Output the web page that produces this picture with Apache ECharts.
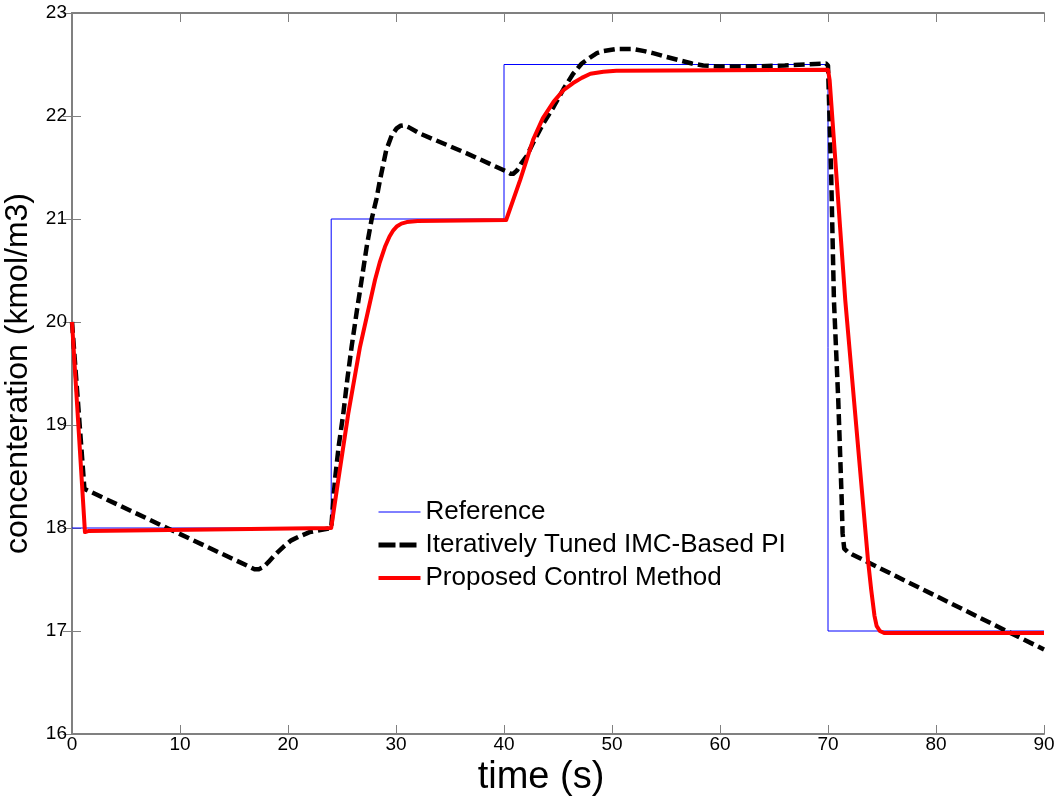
<!DOCTYPE html>
<html>
<head>
<meta charset="utf-8">
<script src="https://cdn.jsdelivr.net/npm/echarts@6/dist/echarts.min.js"></script>
<style>
  html, body { margin: 0; padding: 0; background: #fff; }
  #chart { width: 1058px; height: 796px; }
</style>
</head>
<body>
<div id="chart"></div>
<script>
// Set-point trajectory (step changes)
const refTime = [0, 24, 24, 40, 40, 70, 70, 90];
const refConc = [18, 18, 21, 21, 22.5, 22.5, 17, 17];

// Iteratively tuned IMC-based PI response
const imcTime = [0, 1.15, 8.8, 16.3, 16.9, 17.3, 17.7, 18.2, 18.8, 19.6, 20.3, 21.1, 22, 23, 24,
  24.35, 24.7, 25.12, 25.5, 25.89, 26.35, 26.82, 27.3, 27.75, 28.2, 28.52, 29.1, 29.6, 30.06, 30.4, 30.74, 31.2,
  32.2, 36.5, 40.25, 40.6, 40.86, 41.2, 41.6, 42.1, 42.7, 43.6, 44.6, 45.5, 46.4, 47.2, 48.0, 48.6, 49.2, 50.4,
  52.0, 53.0, 53.8, 55.0, 56.3, 57.4, 58.45, 60, 62.5, 66, 69.8, 70.0,
  70.3, 70.55, 70.95, 71.27, 71.35, 71.5, 71.8, 72.3, 90];
const imcConc = [20.0, 18.38, 18.0, 17.63, 17.6, 17.6, 17.62, 17.67, 17.74, 17.82, 17.88, 17.92, 17.96, 17.98, 18.0,
  18.47, 18.8, 19.11, 19.45, 19.76, 20.09, 20.41, 20.74, 21.0, 21.2, 21.38, 21.67, 21.81, 21.88, 21.905, 21.91, 21.89,
  21.83, 21.64, 21.46, 21.44, 21.44, 21.47, 21.54, 21.61, 21.74, 21.92, 22.09, 22.26, 22.41, 22.51, 22.57, 22.61, 22.63, 22.65,
  22.65, 22.63, 22.61, 22.575, 22.54, 22.51, 22.49, 22.48, 22.48, 22.49, 22.51, 22.49,
  21.4, 20.21, 19.24, 18.27, 17.95, 17.8, 17.77, 17.74, 16.82];

// Proposed control method response
const propTime = [0, 1.2, 1.5, 24, 24.66, 25.58, 26.67, 28.06, 28.5, 28.98, 29.4, 29.75, 30.1, 30.5, 31.0, 32, 40.2,
  41.5, 42.7, 43.6, 44.6, 45.5, 46.4, 47.2, 48.0, 49.2, 50.4, 70.0,
  70.15, 71.6, 73.7, 74.0, 74.3, 74.5, 74.8, 75.2, 90];
const propConc = [20.0, 17.96, 17.97, 18.0, 18.47, 19.11, 19.76, 20.41, 20.58, 20.73, 20.83, 20.89, 20.93, 20.955, 20.97, 20.98, 20.99,
  21.38, 21.77, 21.98, 22.14, 22.25, 22.32, 22.37, 22.41, 22.43, 22.44, 22.45,
  22.35, 20.21, 17.69, 17.4, 17.15, 17.05, 17.0, 16.98, 16.98];

const seriesNames = ['Reference', 'Iteratively Tuned IMC-Based PI', 'Proposed Control Method'];

const xTicks = { min: 0, max: 90, interval: 10 };
const yTicks = { min: 16, max: 23, interval: 1 };

const pairs = (xs, ys) => xs.map((x, i) => [x, ys[i]]);

const FONT = '"Liberation Sans", Arial, sans-serif';
const AXIS_GRAY = '#808080';

const chart = echarts.init(document.getElementById('chart'), null, { renderer: 'canvas' });

const frameAxis = {
  type: 'value',
  axisLine: { show: true, lineStyle: { color: AXIS_GRAY, width: 2 } },
  axisTick: { show: true, inside: true, length: 9, lineStyle: { color: AXIS_GRAY, width: 1 } },
  splitLine: { show: false }
};

chart.setOption({
  animation: false,
  backgroundColor: '#ffffff',
  grid: { left: 72, right: 14, top: 13, bottom: 62, containLabel: false, outerBoundsMode: 'none' },
  xAxis: [
    Object.assign({}, frameAxis, {
      position: 'bottom',
      min: xTicks.min, max: xTicks.max, interval: xTicks.interval,
      axisLabel: { color: '#000', fontFamily: FONT, fontSize: 19, margin: 1 },
      name: 'time (s)',
      nameLocation: 'middle',
      nameGap: 20,
      nameTextStyle: { color: '#000', fontFamily: FONT, fontSize: 38, padding: [0, 34, 0, 0] }
    }),
    Object.assign({}, frameAxis, {
      position: 'top',
      min: xTicks.min, max: xTicks.max, interval: xTicks.interval,
      axisLabel: { show: false }
    })
  ],
  yAxis: [
    Object.assign({}, frameAxis, {
      position: 'left',
      min: yTicks.min, max: yTicks.max, interval: yTicks.interval,
      axisLabel: { color: '#000', fontFamily: FONT, fontSize: 19, margin: 5 },
      name: 'concenteration (kmol/m3)',
      nameLocation: 'middle',
      nameGap: 38,
      nameTextStyle: { color: '#000', fontFamily: FONT, fontSize: 32 }
    }),
    Object.assign({}, frameAxis, {
      position: 'right',
      min: yTicks.min, max: yTicks.max, interval: yTicks.interval,
      axisLabel: { show: false }
    })
  ],
  legend: {
    orient: 'vertical',
    left: 376,
    top: 498,
    padding: 0,
    itemWidth: 42,
    itemHeight: 14,
    itemGap: 5,
    itemStyle: { opacity: 0 },
    textStyle: { color: '#000', fontFamily: FONT, fontSize: 26, lineHeight: 28 },
    data: [
      { name: seriesNames[0], lineStyle: { width: 1, color: '#0000ff', type: 'solid' } },
      { name: seriesNames[1], lineStyle: { width: 5, color: '#000000', type: [17, 4] } },
      { name: seriesNames[2], lineStyle: { width: 4, color: '#ff0000', type: 'solid' } }
    ]
  },
  series: [
    {
      name: seriesNames[0], type: 'line', xAxisIndex: 0, yAxisIndex: 0,
      data: pairs(refTime, refConc),
      showSymbol: false, symbol: 'none',
      lineStyle: { color: '#0000ff', width: 1 },
      itemStyle: { color: '#0000ff' },
      z: 2
    },
    {
      name: seriesNames[1], type: 'line', xAxisIndex: 0, yAxisIndex: 0,
      data: pairs(imcTime, imcConc),
      showSymbol: false, symbol: 'none',
      lineStyle: { color: '#000000', width: 4.5, type: [11, 5], join: 'round' },
      itemStyle: { color: '#000000' },
      z: 3
    },
    {
      name: seriesNames[2], type: 'line', xAxisIndex: 0, yAxisIndex: 0,
      data: pairs(propTime, propConc),
      showSymbol: false, symbol: 'none',
      lineStyle: { color: '#ff0000', width: 4, join: 'round' },
      itemStyle: { color: '#ff0000' },
      z: 4
    }
  ]
});
</script>
</body>
</html>
